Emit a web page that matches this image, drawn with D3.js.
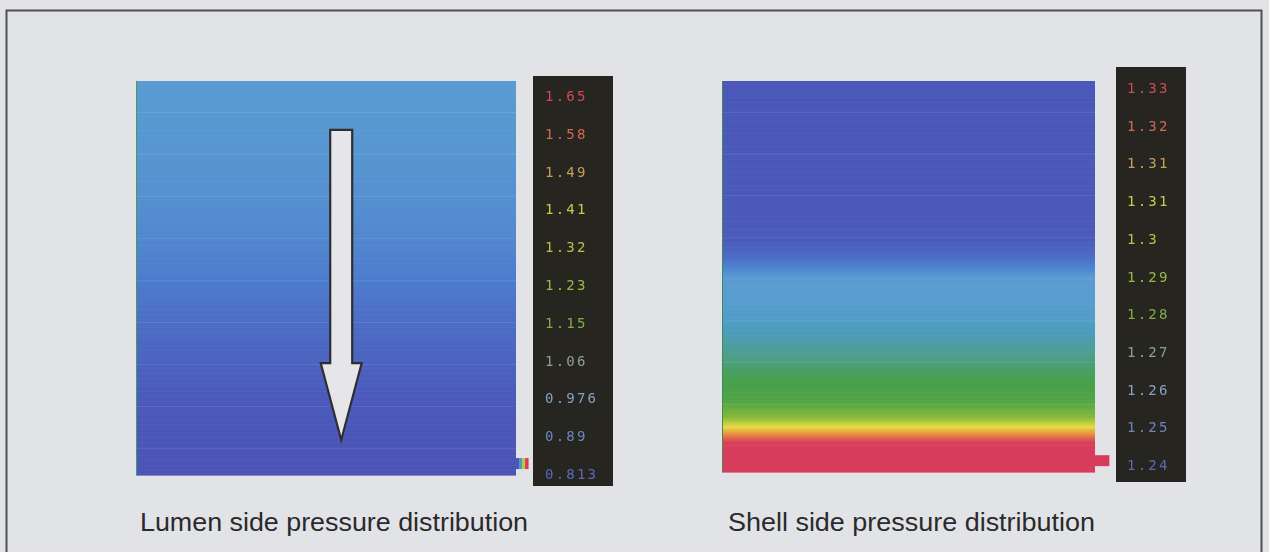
<!DOCTYPE html>
<html>
<head>
<meta charset="utf-8">
<script src="https://cdn.jsdelivr.net/npm/d3@7/dist/d3.min.js"></script>
<style>
  html, body { margin: 0; padding: 0; background: #e2e3e7; }
  svg { display: block; }
</style>
</head>
<body>
<svg id="chart" width="1269" height="552"></svg>
<script>
// ---- Data -------------------------------------------------------------
// Legend tick labels (top = maximum, bottom = minimum)
const lumenTicks = ["1.65", "1.58", "1.49", "1.41", "1.32", "1.23", "1.15", "1.06", "0.976", "0.89", "0.813"];
const shellTicks = ["1.33", "1.32", "1.31", "1.31", "1.3", "1.29", "1.28", "1.27", "1.26", "1.25", "1.24"];

// Pressure range covered by each colour legend
const lumenRange = [0.813, 1.65];
const shellRange = [1.24, 1.33];

// Axial pressure profiles (0 = top of module, 1 = bottom)
const lumenPos      = [0, 0.1, 0.2, 0.3, 0.4, 0.5, 0.6, 0.7, 0.8, 0.9, 1];
const lumenPressure = [1.100, 1.095, 1.085, 1.070, 1.050, 1.020, 0.980, 0.945, 0.915, 0.890, 0.875];

const shellPos      = [0, 0.40, 0.45, 0.50, 0.58, 0.64, 0.70, 0.76, 0.82, 0.86, 0.885, 0.905, 0.925, 1];
const shellPressure = [1.249, 1.2505, 1.257, 1.2705, 1.274, 1.2805, 1.288, 1.295, 1.2976, 1.305, 1.312, 1.321, 1.33, 1.33];

// Outlet stub pressures (left to right across the stub)
const lumenStub = [0.90, 1.20, 1.45, 1.65];
const shellStub = [1.33, 1.33];

const captions = ["Lumen side pressure distribution", "Shell side pressure distribution"];

// ---- Drawing ----------------------------------------------------------
const svg = d3.select("#chart");

// rainbow colour map used by the solver output
const cmap = d3.scaleLinear()
  .domain([0, 0.12, 0.25, 0.35, 0.45, 0.55, 0.62, 0.72, 0.80, 0.88, 1])
  .range(["#4a4cae", "#4b5abb", "#4d7dce", "#5a9dd2", "#4c9dbf", "#4e9e84",
          "#47a049", "#84b83c", "#e6dc42", "#e8963e", "#d93b5a"])
  .interpolate(d3.interpolateRgb)
  .clamp(true);

// softer palette the legend uses for its printed numbers
const labelMap = d3.scaleLinear()
  .domain([0, 0.1, 0.2, 0.3, 0.4, 0.5, 0.6, 0.7, 0.8, 0.9, 1])
  .range(["#6070c6", "#7490d2", "#8eb0d6", "#92b0a0", "#86be4c", "#a4c84a",
          "#c6d04e", "#dcdc50", "#d8ac5c", "#e27058", "#e0505a"])
  .clamp(true);

const defs = svg.append("defs");
defs.append("filter").attr("id", "soft")
  .append("feGaussianBlur").attr("stdDeviation", 0.55);

// outer frame
svg.append("rect")
  .attr("x", 6.5).attr("y", 10.5)
  .attr("width", 1255).attr("height", 580)
  .attr("fill", "none")
  .attr("stroke", "#505052")
  .attr("stroke-width", 2);

const panels = [
  {
    box: [136, 516, 81, 475], legend: [533, 613, 76, 486], labelSpan: [96, 474], labelX: 545,
    range: lumenRange, pos: lumenPos, pressure: lumenPressure, ticks: lumenTicks,
    stub: lumenStub, stubBox: [1.0, 1.032, 0.957, 0.985], caption: captions[0], capX: 140, capW: 388,
    arrow: true, edge: "#4a9a60"
  },
  {
    box: [722, 1095, 81, 472], legend: [1116, 1186, 67, 482], labelSpan: [88, 465], labelX: 1127,
    range: shellRange, pos: shellPos, pressure: shellPressure, ticks: shellTicks,
    stub: shellStub, stubBox: [1.0, 1.0375, 0.957, 0.985], caption: captions[1], capX: 728, capW: 367,
    arrow: false, edge: "#3f8a55"
  }
];

panels.forEach(p => {
  const [x0, x1, y0, y1] = p.box;
  const x = d3.scaleLinear().domain([0, 1]).range([x0, x1]);
  const y = d3.scaleLinear().domain([0, 1]).range([y0, y1]);
  const norm = d3.scaleLinear().domain(p.range).range([0, 1]);
  const profile = d3.scaleLinear().domain(p.pos).range(p.pressure);
  const colour = v => cmap(norm(v));

  const g = svg.append("g");

  // pressure field rendered as thin horizontal strips
  const rows = d3.range(0, 1, 1 / 240);
  g.selectAll("rect.cell").data(rows).join("rect")
    .attr("class", "cell")
    .attr("x", x(0))
    .attr("y", d => y(d))
    .attr("width", x(1) - x(0))
    .attr("height", (y(1) - y(0)) / 240 + 0.6)
    .attr("fill", d => colour(profile(d + 0.5 / 240)));

  // faint mesh lines of the structured grid
  const mesh = d3.range(0.08, 1, 0.1066);
  g.selectAll("line.mesh").data(mesh).join("line")
    .attr("class", "mesh")
    .attr("x1", x(0)).attr("x2", x(1))
    .attr("y1", d => y(d)).attr("y2", d => y(d))
    .attr("stroke", "#ffffff").attr("stroke-opacity", 0.09).attr("stroke-width", 1);

  // thin boundary edge on the left side
  g.append("line")
    .attr("x1", x(0) + 0.5).attr("x2", x(0) + 0.5)
    .attr("y1", y(0)).attr("y2", y(1))
    .attr("stroke", p.edge).attr("stroke-width", 1);

  // outlet stub
  const [sx0, sx1, sy0, sy1] = p.stubBox;
  const sw = (x(sx1) - x(sx0)) / p.stub.length;
  g.selectAll("rect.stub").data(p.stub).join("rect")
    .attr("class", "stub")
    .attr("x", (d, i) => x(sx0) + i * sw)
    .attr("y", y(sy0))
    .attr("width", sw + 0.4)
    .attr("height", y(sy1) - y(sy0))
    .attr("fill", d => colour(d));

  // flow direction arrow
  if (p.arrow) {
    const cx = 0.54, top = 0.124, neck = 0.716, tip = 0.911;
    const shaftHalf = 11, headHalf = 20.5;
    const c = x(cx);
    const pts = [
      [c - shaftHalf, y(top)], [c + shaftHalf, y(top)], [c + shaftHalf, y(neck)],
      [c + headHalf, y(neck)], [c, y(tip)], [c - headHalf, y(neck)], [c - shaftHalf, y(neck)]
    ];
    g.append("path")
      .attr("d", d3.line()(pts) + "Z")
      .attr("fill", "#e6e6ea")
      .attr("stroke", "#2e2e30")
      .attr("stroke-width", 2.2)
      .attr("stroke-linejoin", "miter");
  }

  // colour legend
  const [lx0, lx1, ly0, ly1] = p.legend;
  svg.append("rect")
    .attr("x", lx0).attr("y", ly0)
    .attr("width", lx1 - lx0).attr("height", ly1 - ly0)
    .attr("fill", "#262520");

  const ly = d3.scalePoint().domain(d3.range(p.ticks.length)).range(p.labelSpan);
  const tickPos = d3.scaleLinear().domain([0, p.ticks.length - 1]).range([1, 0]);
  svg.append("g").attr("filter", "url(#soft)")
    .selectAll("text").data(p.ticks).join("text")
    .attr("x", p.labelX)
    .attr("y", (d, i) => ly(i))
    .attr("dy", "0.36em")
    .attr("font-family", "DejaVu Sans Mono, monospace")
    .attr("font-size", 14)
    .attr("letter-spacing", 2.2)
    .attr("fill", (d, i) => labelMap(tickPos(i)))
    .attr("fill-opacity", 0.9)
    .text(d => d);

  // caption
  svg.append("text")
    .attr("x", p.capX)
    .attr("y", 531)
    .attr("font-family", "Liberation Sans, Arial, sans-serif")
    .attr("font-size", 25)
    .attr("fill", "#2a2a2c")
    .attr("textLength", p.capW)
    .attr("lengthAdjust", "spacingAndGlyphs")
    .text(p.caption);
});
</script>
</body>
</html>
